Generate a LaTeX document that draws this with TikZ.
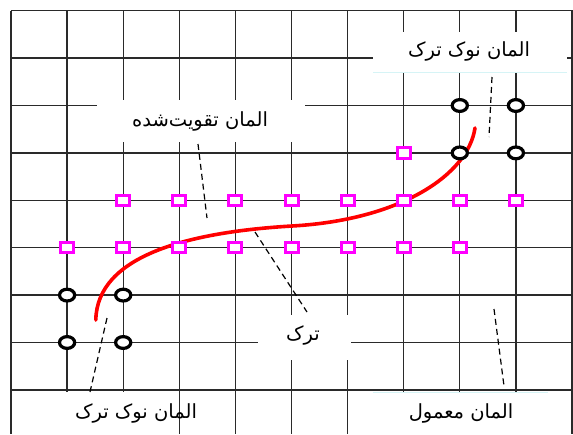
\documentclass[tikz,border=0pt]{standalone}
\usepackage{fontspec}
\usetikzlibrary{shapes.geometric}
\TeXXeTstate=1
\newfontfamily\arabicfont[Script=Arabic]{DejaVu Sans}
\definecolor{gridc}{HTML}{2A2A2A}
\definecolor{mag}{HTML}{FF00FF}
\definecolor{faint}{HTML}{D6F4F6}
\begin{document}
\begin{tikzpicture}[x=1pt,y=-1pt,
  gridline/.style={draw=gridc, line width=1.3pt},
  ring/.style={ellipse, draw=black, line width=3.2pt, fill=white, minimum width=15.2pt, minimum height=11.8pt, inner sep=0pt},
  sq/.style={rectangle, draw=mag, line width=3pt, fill=white, minimum width=13pt, minimum height=10.5pt, inner sep=0pt},
  lbl/.style={font=\arabicfont\fontsize{19.5}{22}\selectfont, inner sep=0pt},
  leader/.style={draw=black, line width=1.2pt, dash pattern=on 6pt off 4pt},
  crack/.style={draw=red, line width=3.6pt, line cap=round}]
\useasboundingbox (0,0) rectangle (573,434);
\fill[white] (0,0) rectangle (573,434);
% grid
\foreach \x in {11,67.1,123.2,179.3,235.4,291.5,347.6,403.7,459.8,515.9,572}
  \draw[gridline] (\x,10.7) -- (\x,434);
\foreach \y in {10.7,58.1,105.5,152.9,200.3,247.7,295.1,342.5,389.9}
  \draw[gridline] (11,\y) -- (573,\y);
% label backgrounds
\fill[white] (373,32) rectangle (567,72);
\draw[faint, line width=0.8pt] (373,72) -- (567,72);
\fill[white] (97,100) rectangle (305,142);
\fill[white] (258,315) rectangle (351,360);
\fill[white] (20,392) rectangle (170,434);
\fill[white] (373,392) rectangle (548,434);
\draw[faint, line width=0.8pt] (373,392.5) -- (548,392.5);
% labels
\node[lbl] (tipTR) at (469,51) {\beginR المان نوک ترک\endR};
\node[lbl] (reinf) at (200,121) {\beginR المان تقویت‌شده\endR};
\node[lbl] (crk) at (303,335) {\beginR ترک\endR};
\node[lbl] (tipBL) at (136,413) {\beginR المان نوک ترک\endR};
\node[lbl] (norm) at (461,413) {\beginR المان معمول\endR};
% leaders
\coordinate (l1a) at (492,77);  \coordinate (l1b) at (489,137);
\coordinate (l2a) at (198,144); \coordinate (l2b) at (207,218);
\coordinate (l3a) at (255,232); \coordinate (l3b) at (307,312);
\coordinate (l4a) at (107,318); \coordinate (l4b) at (90,392);
\coordinate (l5a) at (494,309); \coordinate (l5b) at (504,386);
\draw[leader] (l1a) -- (l1b);
\draw[leader] (l2a) -- (l2b);
\draw[leader] (l3a) -- (l3b);
\draw[leader] (l4a) -- (l4b);
\draw[leader] (l5a) -- (l5b);
% crack
\coordinate (cs) at (95.8,320);
\coordinate (cm) at (292,226);
\coordinate (ce) at (475,128);
\draw[crack] (cs) .. controls (97,255) and (190,232) .. (cm) .. controls (400,220) and (468,175) .. (ce);
% reinforced elements
\foreach \x [count=\i] in {123.2,179.3,235.4,291.5,347.6,403.7,459.8,515.9}
  \node[sq] (sa\i) at (\x,200.3) {};
\foreach \x [count=\i] in {67.1,123.2,179.3,235.4,291.5,347.6,403.7,459.8}
  \node[sq] (sb\i) at (\x,247.7) {};
\node[sq] (sc1) at (403.7,152.9) {};
% crack tip elements
\node[ring] (r1) at (459.8,105.5) {};
\node[ring] (r2) at (515.9,105.5) {};
\node[ring] (r3) at (459.8,152.9) {};
\node[ring] (r4) at (515.9,152.9) {};
\node[ring] (r5) at (67.1,295.1) {};
\node[ring] (r6) at (123.2,295.1) {};
\node[ring] (r7) at (67.1,342.5) {};
\node[ring] (r8) at (123.2,342.5) {};
\end{tikzpicture}
\end{document}
